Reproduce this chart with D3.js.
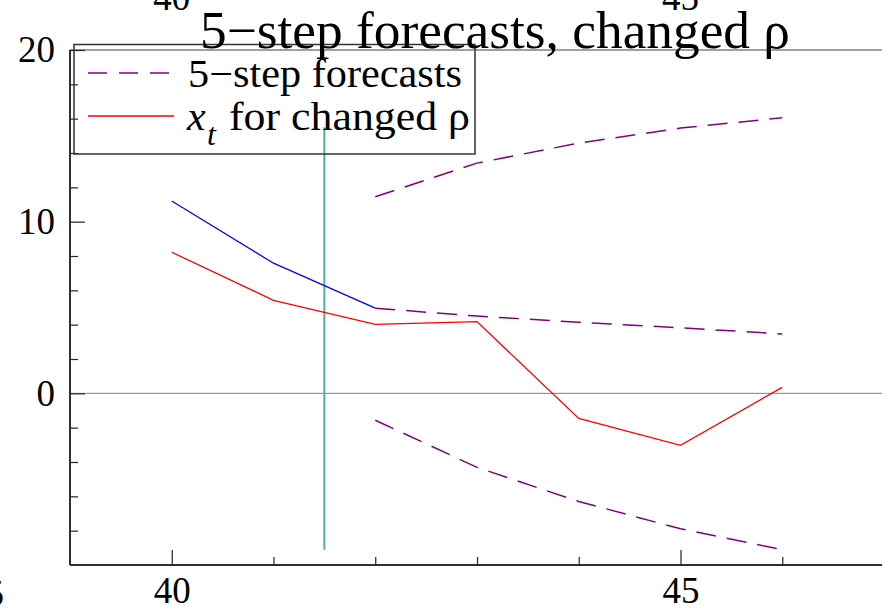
<!DOCTYPE html>
<html>
<head>
<meta charset="utf-8">
<script src="https://cdn.jsdelivr.net/npm/d3@7"></script>
<style>
  html, body { margin: 0; padding: 0; background: #fff; }
  svg { display: block; font-family: "Liberation Serif", "DejaVu Serif", serif; }
</style>
</head>
<body>
<svg id="chart" width="882" height="613"></svg>
<script>
// ---- data ----
const actualTime = [40, 41, 42];
const actualValues = [11.2, 7.58, 4.96];
const changedTime = [40, 41, 42, 43, 44, 45, 46];
const changedValues = [8.22, 5.42, 4.02, 4.18, -1.46, -3.03, 0.35];
const forecastTime = [42, 43, 44, 45, 46];
const forecastMid = [4.96, 4.5, 4.14, 3.82, 3.46];
const forecastUpper = [11.45, 13.41, 14.58, 15.45, 16.05];
const forecastLower = [-1.57, -4.31, -6.3, -7.89, -9.11];
const markerTime = [41.5];
const markerRange = [15.5, -9.11];
const xMajorTicks = [40, 45];
const xMinorTicks = [41, 42, 43, 44, 46];
const yMajorTicks = [0, 10, 20];
const yMinorTicks = [-8, -6, -4, -2, 2, 4, 6, 8, 12, 14, 16, 18];
const titleText = "5\u2212step forecasts, changed \u03c1";
const legendLabels = ["5\u2212step forecasts", "for changed \u03c1"];

// ---- layout ----
const svg = d3.select("#chart");
const x = d3.scaleLinear().domain([39, 47]).range([70, 884]);
const y = d3.scaleLinear().domain([-10, 20]).range([565, 50]);

const line = d3.line().x(d => x(d[0])).y(d => y(d[1]));

// zero line
svg.append("line")
  .attr("x1", 70).attr("x2", 882)
  .attr("y1", y(0)).attr("y2", y(0))
  .attr("stroke", "#808080").attr("stroke-width", 1);

// top axis line
svg.append("line")
  .attr("x1", 70).attr("x2", 882)
  .attr("y1", y(20)).attr("y2", y(20))
  .attr("stroke", "#808080").attr("stroke-width", 1.5);

// bottom axis (inward ticks)
const fontTick = 37;
const gxMajor = svg.append("g").attr("transform", `translate(0,${y(-10)})`)
  .call(d3.axisBottom(x).tickValues(xMajorTicks).tickSize(-15).tickPadding(12).tickFormat(d3.format("d")));
const gxMinor = svg.append("g").attr("transform", `translate(0,${y(-10)})`)
  .call(d3.axisBottom(x).tickValues(xMinorTicks).tickSize(-8).tickFormat(""));
[gxMajor, gxMinor].forEach(g => {
  g.select(".domain").attr("d", `M70,0H882`).attr("stroke", "#222").attr("stroke-width", 1.5);
  g.selectAll(".tick line").attr("stroke", "#222").attr("stroke-width", 1.2);
  g.selectAll("text").attr("font-size", fontTick).attr("font-family", "Liberation Serif").attr("fill", "#000");
});
gxMajor.selectAll(".tick text").attr("dy", "0.71em");

// top axis labels (cut off at top)
svg.append("g").selectAll("text").data(xMajorTicks).join("text")
  .attr("x", d => x(d)).attr("y", 10)
  .attr("text-anchor", "middle")
  .attr("font-size", fontTick)
  .text(d => d);

// stray label at bottom-left edge
svg.append("text").attr("x", 4).attr("y", 606).attr("text-anchor", "end")
  .attr("font-size", fontTick).text("5");

// left axis (inward ticks)
const gyMajor = svg.append("g").attr("transform", `translate(70,0)`)
  .call(d3.axisLeft(y).tickValues(yMajorTicks).tickSize(-15).tickPadding(15).tickFormat(d3.format("d")));
const gyMinor = svg.append("g").attr("transform", `translate(70,0)`)
  .call(d3.axisLeft(y).tickValues(yMinorTicks).tickSize(-8).tickFormat(""));
[gyMajor, gyMinor].forEach(g => {
  g.select(".domain").attr("d", `M0,${y(20)}V${y(-10)}`).attr("stroke", "#222").attr("stroke-width", 1.5);
  g.selectAll(".tick line").attr("stroke", "#222").attr("stroke-width", 1.2);
  g.selectAll("text").attr("font-size", fontTick).attr("font-family", "Liberation Serif").attr("fill", "#000");
});

// vertical marker
svg.append("g").selectAll("line").data(markerTime).join("line")
  .attr("x1", d => x(d)).attr("x2", d => x(d))
  .attr("y1", y(markerRange[0])).attr("y2", y(markerRange[1]))
  .attr("stroke", "#55aaaa").attr("stroke-width", 2);

// actual series (blue)
svg.append("path")
  .datum(actualTime.map((t, i) => [t, actualValues[i]]))
  .attr("d", line).attr("fill", "none").attr("stroke", "#0000ff").attr("stroke-width", 1.3);

// forecast series (purple dashed)
[forecastUpper, forecastMid, forecastLower].forEach(vals => {
  svg.append("path")
    .datum(forecastTime.map((t, i) => [t, vals[i]]))
    .attr("d", line).attr("fill", "none")
    .attr("stroke", "#800080").attr("stroke-width", 1.5)
    .attr("stroke-dasharray", "20,11");
});

// changed rho series (red)
svg.append("path")
  .datum(changedTime.map((t, i) => [t, changedValues[i]]))
  .attr("d", line).attr("fill", "none").attr("stroke", "#ff0000").attr("stroke-width", 1.3);

// legend
const leg = svg.append("g");
leg.append("rect").attr("x", 74).attr("y", 44.5).attr("width", 401).attr("height", 109.5)
  .attr("fill", "none").attr("stroke", "#333").attr("stroke-width", 1.5);
leg.append("line").attr("x1", 88).attr("x2", 172).attr("y1", 73).attr("y2", 73)
  .attr("stroke", "#800080").attr("stroke-width", 1.5).attr("stroke-dasharray", "19,12");
leg.append("line").attr("x1", 88).attr("x2", 174).attr("y1", 116).attr("y2", 116)
  .attr("stroke", "#ff0000").attr("stroke-width", 1.3);
leg.append("text").attr("x", 188).attr("y", 87).attr("font-size", 40)
  .attr("textLength", 274).attr("lengthAdjust", "spacingAndGlyphs").text(legendLabels[0]);
leg.append("text").attr("x", 187).attr("y", 130).attr("font-size", 42)
  .attr("font-style", "italic").text("x");
leg.append("text").attr("x", 207).attr("y", 145).attr("font-size", 32)
  .attr("font-style", "italic").text("t");
leg.append("text").attr("x", 229).attr("y", 130).attr("font-size", 40)
  .attr("textLength", 241).attr("lengthAdjust", "spacingAndGlyphs").text(legendLabels[1]);

// title
svg.append("text").attr("x", 495).attr("y", 48).attr("text-anchor", "middle")
  .attr("font-size", 52).attr("textLength", 590).attr("lengthAdjust", "spacingAndGlyphs").text(titleText);
</script>
</body>
</html>
